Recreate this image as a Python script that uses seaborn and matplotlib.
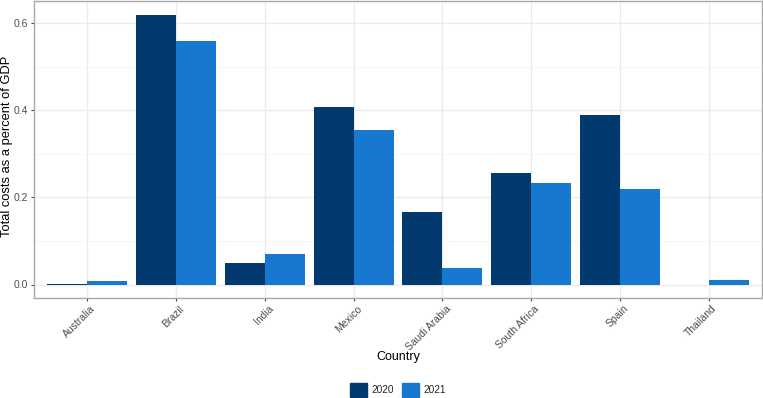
import pandas as pd
import seaborn as sns
import matplotlib.pyplot as plt
import matplotlib.transforms as mtransforms
from matplotlib.ticker import MultipleLocator, FormatStrFormatter

countries = ['Australia', 'Brazil', 'India', 'Mexico', 'Saudi Arabia', 'South Africa', 'Spain', 'Thailand']
cost_2020 = [0.002, 0.620, 0.050, 0.408, 0.167, 0.256, 0.389, 0.0]
cost_2021 = [0.009, 0.559, 0.069, 0.355, 0.039, 0.234, 0.220, 0.011]
years = ['2020', '2021']
colors = {'2020': '#023A70', '2021': '#1778CF'}

df = pd.DataFrame({
    'Country': countries * 2,
    'Year': ['2020'] * len(countries) + ['2021'] * len(countries),
    'Cost': cost_2020 + cost_2021,
})

sns.set_style('white')
plt.rcParams['font.family'] = ['Liberation Sans', 'DejaVu Sans']

fig = plt.figure(figsize=(7.63, 3.98), dpi=100)
ax = fig.add_axes([34 / 763, 1 - 298 / 398, (762 - 34) / 763, 297 / 398])

sns.barplot(data=df, x='Country', y='Cost', hue='Year', hue_order=years,
            palette=colors, saturation=1, width=0.9, gap=0, linewidth=0,
            ax=ax, legend=False, zorder=3)

ax.set_xlim(-0.6, len(countries) - 0.4)
ax.set_ylim(-0.031, 0.651)
ax.yaxis.set_major_locator(MultipleLocator(0.2))
ax.yaxis.set_minor_locator(MultipleLocator(0.1))
ax.yaxis.set_major_formatter(FormatStrFormatter('%.1f'))

ax.grid(True, which='major', color='#ebebeb', linewidth=1.0, zorder=0)
ax.grid(True, which='minor', axis='y', color='#f4f4f4', linewidth=0.6, zorder=0)
ax.set_axisbelow(True)
for s in ax.spines.values():
    s.set_color('#a8a8a8')
    s.set_linewidth(1.0)

ax.tick_params(axis='both', which='major', length=2.5, width=0.8, color='#444444',
               labelcolor='#4d4d4d', labelsize=7.5, left=True, bottom=True, pad=2)
ax.tick_params(axis='x', which='major', pad=1.5)
ax.tick_params(axis='both', which='minor', length=0)
shift = mtransforms.ScaledTranslation(3 / 100, 0, fig.dpi_scale_trans)
for lab in ax.get_xticklabels():
    lab.set_rotation(45)
    lab.set_ha('right')
    lab.set_rotation_mode('anchor')
    lab.set_transform(lab.get_transform() + shift)

ax.set_xlabel('Country', fontsize=9, color='black', va='center')
ax.xaxis.set_label_coords(0.5, (298 - 357) / 297)
ax.set_ylabel('Total costs as a percent of GDP', fontsize=9.3, color='black', va='center')
ax.yaxis.set_label_coords((7 - 34) / 728, 0.512)

handles = [plt.Rectangle((0, 0), 1, 1, color=colors[y]) for y in years]
fig.legend(handles, years, loc='center', bbox_to_anchor=(398 / 763, 1 - 390 / 398), ncol=2,
           frameon=False, fontsize=7.3, handlelength=1.65, handleheight=1.65,
           handletextpad=0.45, columnspacing=0.8, borderaxespad=0, borderpad=0)

fig.savefig('out.png', dpi=100)
